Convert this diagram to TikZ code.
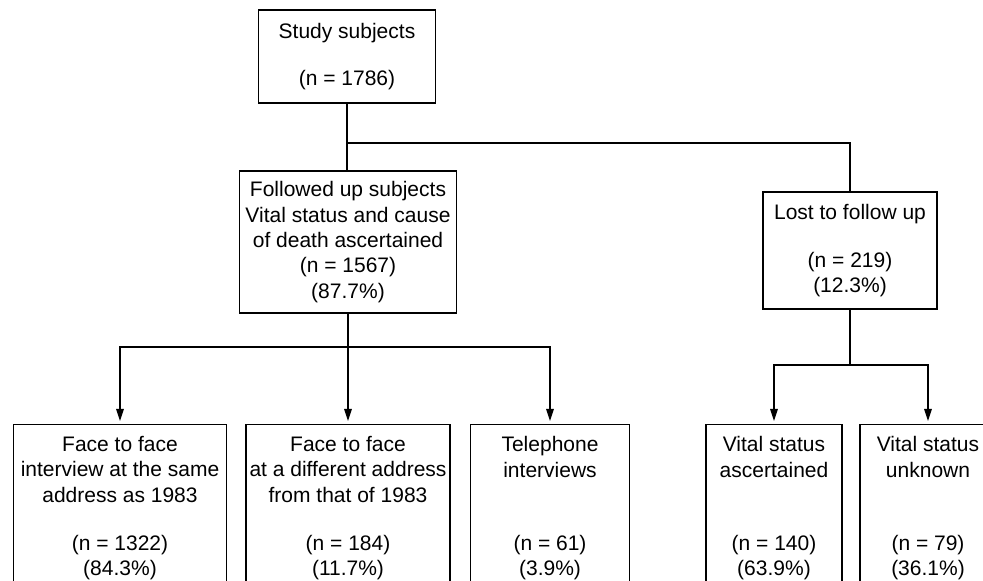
\documentclass[tikz,border=0pt]{standalone}
\usepackage{fontspec}
\setmainfont{Liberation Sans}
\usetikzlibrary{arrows.meta}

\begin{document}
\begin{tikzpicture}[x=0.5pt, y=-0.5pt,
    box/.style={draw, rectangle, line width=0.6pt, align=center, inner sep=0pt,
        font=\fontsize{10.5}{12.7}\selectfont},
    link/.style={line width=0.6pt},
    arrow/.style={line width=0.6pt, -{Triangle[length=6pt, width=3.8pt]}, shorten >=1.5pt}]
    \useasboundingbox (0,0) rectangle (983,581);
    \clip (0,0) rectangle (983,581);

    \node[box, minimum width=88.5pt, minimum height=46.5pt] (study) at (347,56.5) {Study subjects\\[10.8pt](n = 1786)};
    \node[box, minimum width=108.5pt, minimum height=71pt] (followed) at (348,242) {Followed up subjects\\Vital status and cause\\of death ascertained\\(n = 1567)\\(87.7\%)};
    \node[box, minimum width=87pt, minimum height=58.5pt] (lost) at (850,250.5) {Lost to follow up\\[11.3pt](n = 219)\\(12.3\%)};

    \node[box, minimum width=106.5pt, minimum height=83.5pt, anchor=north] (same) at (120,424) {Face to face\\interview at the same\\address as 1983\\[11.3pt](n = 1322)\\(84.3\%)};
    \node[box, minimum width=102pt, minimum height=83.5pt, anchor=north] (diff) at (348,424) {Face to face\\at a different address\\from that of 1983\\[11.3pt](n = 184)\\(11.7\%)};
    \node[box, minimum width=79.5pt, minimum height=83.5pt, anchor=north] (phone) at (550,424) {Telephone\\interviews\\[23.8pt](n = 61)\\(3.9\%)};
    \node[box, minimum width=68pt, minimum height=83.5pt, anchor=north] (known) at (774,424) {Vital status\\ascertained\\[23.8pt](n = 140)\\(63.9\%)};
    \node[box, minimum width=68pt, minimum height=83.5pt, anchor=north] (unknown) at (928,424) {Vital status\\unknown\\[23.8pt](n = 79)\\(36.1\%)};

    % branch points
    \coordinate (split0) at (347,143);
    \coordinate (split1) at (348,347);
    \coordinate (split2) at (850,365);

    \draw[link] (study.south) -- (split0);
    \draw[link] (split0) -- (split0 |- followed.north);
    \draw[link] (split0) -| (lost.north);

    \draw[link] (followed.south) -- (split1);
    \draw[arrow] (split1) -| (same.north);
    \draw[arrow] (split1) -- (diff.north);
    \draw[arrow] (split1) -| (phone.north);

    \draw[link] (lost.south) -- (split2);
    \draw[arrow] (split2) -| (known.north);
    \draw[arrow] (split2) -| (unknown.north);
\end{tikzpicture}
\end{document}
